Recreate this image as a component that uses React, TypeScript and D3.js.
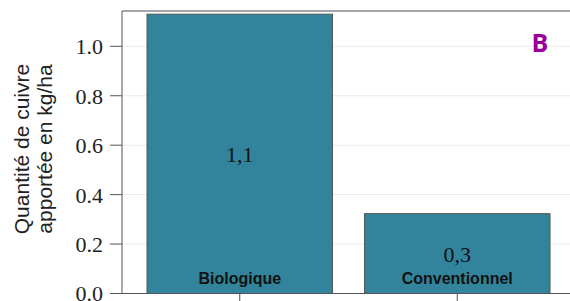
import React from "react";
import * as d3 from "d3";

const categories = ["Biologique", "Conventionnel"];
const values = [1.13, 0.323];
const valueLabels = ["1,1", "0,3"];
const yTicks = [0, 0.2, 0.4, 0.6, 0.8, 1.0];

const W = 570, H = 301;
const left = 122, right = 575, top = 11, bottom = 293.5;

export default function App() {
  const x = d3.scaleBand<string>().domain(categories).range([left, right]).paddingInner(0.147).paddingOuter(0.115);
  const y = d3.scaleLinear().domain([0, 1.0]).range([bottom, bottom - 247.2]);
  const bw = x.bandwidth();
  return (
    <svg width={W} height={H} style={{ position: "absolute", left: 0, top: 0 }}>
      <rect x={0} y={0} width={W} height={H} fill="#fff" />
      {yTicks.map((t) => (
        <line key={"g" + t} x1={left} x2={right} y1={y(t)} y2={y(t)} stroke="#ebebeb" strokeWidth={1} />
      ))}
      {categories.map((c, i) => (
        <rect key={c} x={x(c)!} y={y(values[i])} width={bw} height={y(0) - y(values[i])} fill="#31849b" stroke="#555" strokeWidth={1} />
      ))}
      <line x1={left} x2={right} y1={top} y2={top} stroke="#888" strokeWidth={1.5} />
      <line x1={left} x2={left} y1={top} y2={bottom} stroke="#555" strokeWidth={1} />
      <line x1={left} x2={right} y1={bottom} y2={bottom} stroke="#555" strokeWidth={1} />
      {yTicks.map((t) => (
        <g key={"t" + t}>
          <line x1={left - 12} x2={left} y1={y(t)} y2={y(t)} stroke="#555" />
          <text x={left - 19} y={y(t)} dy="0.36em" textAnchor="end" fontFamily="Liberation Serif" fontSize={22} fill="#222">
            {t.toFixed(1)}
          </text>
        </g>
      ))}
      {categories.map((c) => (
        <line key={"xt" + c} x1={x(c)! + bw / 2} x2={x(c)! + bw / 2} y1={bottom} y2={bottom + 8} stroke="#555" />
      ))}
      {categories.map((c, i) => (
        <g key={"l" + c}>
          <text x={x(c)! + bw / 2} y={i === 0 ? y(values[i] / 2) : y(values[i]) + 41} dy="0.35em" textAnchor="middle" fontFamily="Liberation Serif" fontSize={22} fill="#111">
            {valueLabels[i]}
          </text>
          <text x={x(c)! + bw / 2} y={284} textAnchor="middle" fontFamily="Liberation Sans" fontWeight="bold" fontSize={16} fill="#111">
            {c}
          </text>
        </g>
      ))}
      <text transform={`translate(29,149) rotate(-90)`} textAnchor="middle" fontFamily="Liberation Sans" fontSize={21} fill="#222">
        Quantité de cuivre
      </text>
      <text transform={`translate(52,149) rotate(-90)`} textAnchor="middle" fontFamily="Liberation Sans" fontSize={21} fill="#222">
        apportée en kg/ha
      </text>
      <text x={540} y={52} textAnchor="middle" fontFamily="Open Sans" fontWeight="bold" fontSize={25} fill="#990099">
        B
      </text>
    </svg>
  );
}
